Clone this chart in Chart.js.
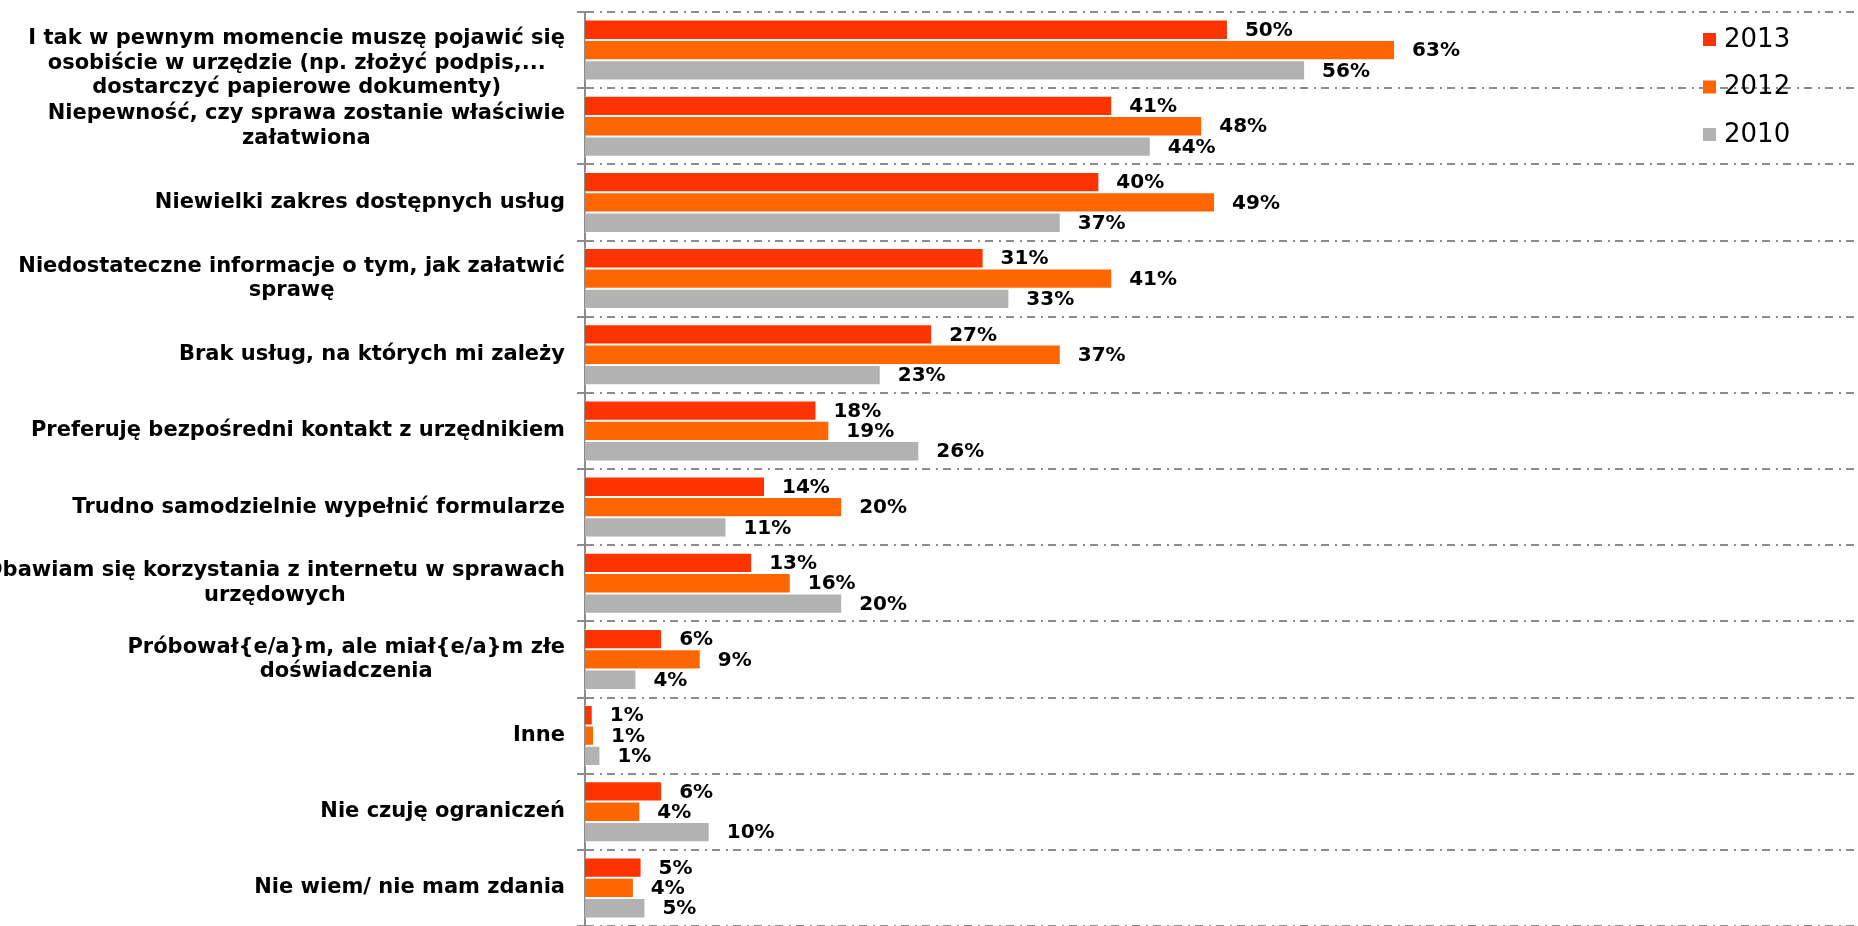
<!DOCTYPE html>
<html>
<head>
<meta charset="utf-8">
<script src="https://cdn.jsdelivr.net/npm/chart.js@4"></script>
<style>
  body { margin: 0; background: #fff; }
  canvas { display: block; }
</style>
</head>
<body>
<canvas id="chart" width="1858" height="926"></canvas>
<script>
const categories = [
  ["I tak w pewnym momencie muszę pojawić się", "osobiście w urzędzie (np. złożyć podpis,...", "dostarczyć papierowe dokumenty)"],
  ["Niepewność, czy sprawa zostanie właściwie", "załatwiona"],
  ["Niewielki zakres dostępnych usług"],
  ["Niedostateczne informacje o tym, jak załatwić", "sprawę"],
  ["Brak usług, na których mi zależy"],
  ["Preferuję bezpośredni kontakt z urzędnikiem"],
  ["Trudno samodzielnie wypełnić formularze"],
  ["Obawiam się korzystania z internetu w sprawach", "urzędowych"],
  ["Próbował{e/a}m, ale miał{e/a}m złe", "doświadczenia"],
  ["Inne"],
  ["Nie czuję ograniczeń"],
  ["Nie wiem/ nie mam zdania"]
];
const seriesNames = ["2013", "2012", "2010"];
const colors = ["#ff3300", "#ff6600", "#b2b2b2"];

// bar lengths
const values2013 = [50, 41, 40, 31, 27, 18, 14, 13, 6, 0.6, 6, 4.4];
const values2012 = [63, 48, 49, 41, 37, 19, 20, 16, 9, 0.7, 4.3, 3.8];
const values2010 = [56, 44, 37, 33, 23, 26, 11, 20, 4, 1.2, 9.7, 4.7];

// printed labels
const shown2013 = [50, 41, 40, 31, 27, 18, 14, 13, 6, 1, 6, 5];
const shown2012 = [63, 48, 49, 41, 37, 19, 20, 16, 9, 1, 4, 4];
const shown2010 = [56, 44, 37, 33, 23, 26, 11, 20, 4, 1, 10, 5];

const allValues = [values2013, values2012, values2010];
const allShown = [shown2013, shown2012, shown2010];

const textPlugin = {
  id: "textPlugin",
  afterDraw(chart) {
    const ctx = chart.ctx;
    ctx.save();
    ctx.fillStyle = "#000";
    ctx.textBaseline = "middle";

    // value labels
    ctx.font = "bold 20px 'DejaVu Sans'";
    ctx.textAlign = "left";
    chart.data.datasets.forEach((ds, d) => {
      chart.getDatasetMeta(d).data.forEach((bar, i) => {
        ctx.fillText(allShown[d][i] + "%", bar.x + 17, bar.y + 1);
      });
    });

    // category labels: block right aligned, lines centred
    const yScale = chart.scales.y;
    const lineH = 24.5;
    ctx.font = "bold 21px 'DejaVu Sans'";
    ctx.textAlign = "center";
    categories.forEach((lines, i) => {
      const w = Math.max(...lines.map((l) => ctx.measureText(l).width));
      const cx = yScale.right - 20 - w / 2;
      let top = yScale.getPixelForValue(i) - ((lines.length - 1) * lineH) / 2;
      if (top < 39) top = 39;
      lines.forEach((l, k) => ctx.fillText(l, cx, top + k * lineH));
    });

    // legend
    ctx.font = "26px 'DejaVu Sans'";
    ctx.textAlign = "left";
    seriesNames.forEach((name, i) => {
      const cy = 39 + i * 47.5;
      ctx.fillStyle = colors[i];
      ctx.fillRect(1703, cy - 6, 13, 13);
      ctx.fillStyle = "#000";
      ctx.fillText(name, 1724, cy + 1);
    });
    ctx.restore();
  }
};

new Chart(document.getElementById("chart").getContext("2d"), {
  type: "bar",
  data: {
    labels: categories,
    datasets: seriesNames.map((name, i) => ({
      label: name,
      data: allValues[i],
      backgroundColor: colors[i],
      borderColor: "rgba(255,255,255,0.6)",
      borderWidth: 1,
      barPercentage: 1,
      categoryPercentage: 0.8
    }))
  },
  options: {
    indexAxis: "y",
    responsive: false,
    animation: false,
    layout: { padding: { top: 12, right: 0, bottom: -2, left: 0 } },
    plugins: {
      legend: { display: false },
      tooltip: { enabled: false }
    },
    scales: {
      x: {
        display: false,
        min: 0,
        max: 99
      },
      y: {
        offset: true,
        ticks: { display: false },
        grid: {
          offset: true,
          color: "#8c8c8c",
          lineWidth: 2,
          tickLength: 8,
          tickBorderDash: []
        },
        border: {
          color: "#8c8c8c",
          width: 2,
          dash: [8, 6, 2, 5]
        },
        afterFit: (scale) => {
          scale.width = 585;
        }
      }
    }
  },
  plugins: [textPlugin]
});
</script>
</body>
</html>
